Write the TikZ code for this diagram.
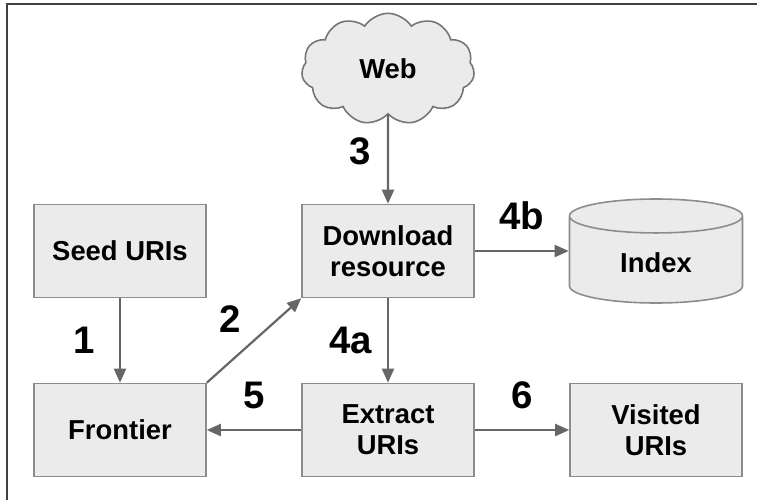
\documentclass[tikz,border=0pt]{standalone}
\usepackage{fontspec}
\setmainfont{Liberation Sans}
\usetikzlibrary{arrows.meta,positioning,shapes.geometric,shapes.symbols}
\definecolor{boxfill}{HTML}{EBEBEB}
\definecolor{boxline}{HTML}{8C8C8C}
\definecolor{arrline}{HTML}{666666}
\begin{document}
\begin{tikzpicture}[x=0.5pt,y=0.5pt,
  every node/.style={font=\bfseries\fontsize{13.7}{15.5}\selectfont},
  stage/.style={draw=boxline,fill=boxfill,line width=0.8pt,minimum width=86pt,minimum height=46.5pt,align=center},
  flow/.style={draw=arrline,line width=1.1pt,-{Triangle[length=7pt,width=6pt]}},
  num/.style={inner sep=0pt,font=\bfseries\fontsize{19.2}{21}\selectfont}]

  \useasboundingbox (0,0) rectangle (757,500);
  \draw[line width=1pt,draw=black!75] (7,0) -- (7,496.5) -- (757,496.5);

  \node[stage] (seed) at (120,249) {Seed URIs};
  \node[stage] (frontier) at (120,70) {Frontier};
  \node[stage] (download) at (388,249) {Download\\resource};
  \node[stage] (extract) at (388,70) {Extract\\URIs};
  \node[stage] (visited) at (656,70) {Visited\\URIs};
  \node[cylinder,shape border rotate=90,aspect=0.4,anchor=shape center,draw=boxline,fill=boxfill,line width=0.8pt,minimum width=86.5pt,minimum height=52pt] (index) at (656,249) {Index};
  \node[cloud,cloud puffs=11,cloud puff arc=115,draw=arrline!90,fill=boxfill,line width=0.8pt,minimum width=86.5pt,minimum height=50pt] (web) at (388,431) {Web};

  \draw[flow] (seed) -- node[num,left=12pt] {1} (frontier);
  \draw[flow] (frontier.north east) -- node[num,above left=3.5pt and 6pt] {2} (download.south west);
  \draw[flow] (web) -- node[num,left=8pt,yshift=4pt] {3} (download);
  \draw[flow] (download) -- node[num,left=7.5pt] {4a} (extract);
  \draw[flow] (download.east) -- node[num,above=10pt] {4b} (download.east -| index.west);
  \draw[flow] (extract) -- node[num,above=10pt] {5} (frontier);
  \draw[flow] (extract) -- node[num,above=10pt] {6} (visited);

\end{tikzpicture}
\end{document}
